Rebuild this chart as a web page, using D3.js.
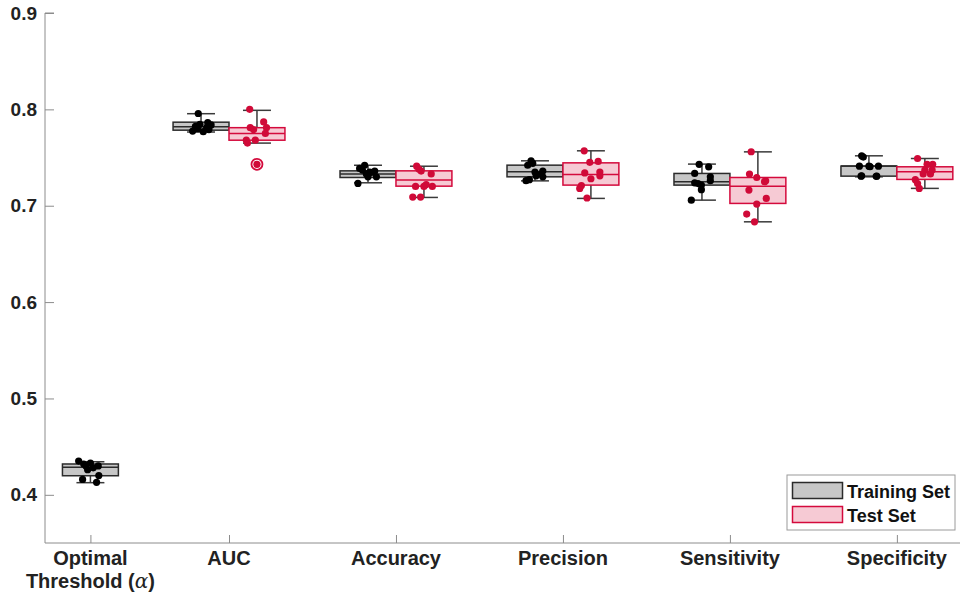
<!DOCTYPE html>
<html>
<head>
<meta charset="utf-8">
<script src="https://cdn.jsdelivr.net/npm/d3@7"></script>
<style>
  body { margin: 0; background: #fff; }
  svg { display: block; font-family: "Liberation Sans", Arial, sans-serif; }
</style>
</head>
<body>
<svg id="chart" width="960" height="599"></svg>
<script>
//categories and where they sit on the x axis
const categories = ["Optimal", "AUC", "Accuracy", "Precision", "Sensitivity", "Specificity"]
const catPos = [1.17, 2, 3, 4, 5, 6]

//box stats: [lower whisker, q1, median, q3, upper whisker]
const trainStats = [
  [0.4126, 0.4198, 0.4285, 0.4320, 0.4343],
  [0.7765, 0.7784, 0.7820, 0.7867, 0.7955],
  [0.7238, 0.7293, 0.7328, 0.7362, 0.7420],
  [0.7258, 0.7300, 0.7352, 0.7421, 0.7466],
  [0.7058, 0.7214, 0.7248, 0.7335, 0.7432],
  [0.7300, 0.7307, 0.7411, 0.7411, 0.7518]
]
const testStats = [
  null,
  [0.7650, 0.7680, 0.7750, 0.7810, 0.7990],
  [0.7086, 0.7203, 0.7266, 0.7362, 0.7410],
  [0.7076, 0.7214, 0.7325, 0.7445, 0.7570],
  [0.6833, 0.7024, 0.7203, 0.7293, 0.7559],
  [0.7180, 0.7273, 0.7352, 0.7404, 0.7490]
]

//fold scores: [value, jitter as share of box width]
const trainPoints = [
  [[0.435,-0.21],[0.430,-0.08],[0.426,-0.05],[0.430,0.14],[0.420,0.15],[0.416,-0.14],[0.413,0.11],[0.433,0.0],[0.428,0.05],[0.432,-0.12]],
  [[0.7957,-0.05],[0.7862,0.12],[0.7845,-0.02],[0.7838,0.18],[0.7825,-0.10],[0.7810,0.10],[0.7800,-0.06],[0.7790,0.14],[0.7775,-0.15],[0.7768,0.04]],
  [[0.742,-0.06],[0.7387,-0.15],[0.737,-0.10],[0.735,0.03],[0.736,0.12],[0.730,0.0],[0.730,0.15],[0.7231,-0.18],[0.733,-0.03],[0.7345,0.06]],
  [[0.7466,-0.07],[0.742,-0.13],[0.735,0.0],[0.733,0.11],[0.730,0.14],[0.726,-0.16],[0.727,-0.10],[0.736,0.14],[0.744,-0.04],[0.731,0.02]],
  [[0.743,-0.05],[0.7404,0.12],[0.7335,-0.13],[0.730,0.15],[0.726,0.15],[0.7238,-0.13],[0.7214,-0.01],[0.7167,-0.01],[0.7058,-0.19],[0.723,-0.07]],
  [[0.7518,-0.13],[0.741,-0.17],[0.741,0.0],[0.741,0.17],[0.7307,-0.14],[0.7307,0.14],[0.7505,-0.10],[0.7405,0.02],[0.731,-0.13],[0.7305,0.13]]
]
const testPoints = [
  [],
  [[0.800,-0.13],[0.787,0.12],[0.781,-0.12],[0.779,-0.06],[0.781,0.17],[0.775,0.15],[0.768,-0.03],[0.768,-0.19],[0.765,-0.17],[0.743,0.0]],
  [[0.741,-0.13],[0.736,-0.05],[0.733,0.13],[0.720,-0.15],[0.720,0.0],[0.720,0.15],[0.709,-0.20],[0.709,-0.06],[0.738,-0.09],[0.722,0.04]],
  [[0.757,-0.12],[0.745,-0.02],[0.746,0.13],[0.734,-0.11],[0.735,0.16],[0.731,0.16],[0.728,0.0],[0.721,-0.17],[0.718,-0.20],[0.708,-0.07]],
  [[0.756,-0.12],[0.7328,-0.15],[0.7293,-0.02],[0.7258,0.14],[0.7162,-0.16],[0.7076,0.15],[0.7017,-0.02],[0.6913,-0.20],[0.6833,-0.06],[0.725,0.12]],
  [[0.749,-0.13],[0.743,0.04],[0.743,0.14],[0.737,0.0],[0.737,0.13],[0.733,-0.03],[0.733,0.10],[0.727,-0.17],[0.723,-0.13],[0.718,-0.10]]
]
//outliers of the test set: [category index, value]
const testOutliers = [[1, 0.743]]

const yTicks = [0.4, 0.5, 0.6, 0.7, 0.8, 0.9]

//look
const trainFill = "#c7c7c7", trainEdge = "#2b2b2b", trainDot = "#000000"
const testFill = "#f6cad4", testEdge = "#d40a3c", testDot = "#d00a38"
const whiskerColor = "#3a3a3a"
const axisColor = "#8c8c8c"
const textColor = "#222222"

const svg = d3.select("#chart")

//scales
const x = d3.scaleLinear().domain([0.898, 6.378]).range([45, 960])
const y = d3.scaleLinear().domain([0.35, 0.9]).range([543, 13])
const boxW = 0.335 //box width in x units
const boxPx = x(boxW) - x(0)

//y axis, ticks pointing inward
const yAxis = svg.append("g").attr("transform", "translate(45,0)")
  .call(d3.axisRight(y).tickValues(yTicks).tickSize(9).tickFormat(d3.format(".1f")))
yAxis.select(".domain").attr("stroke", axisColor).attr("d", `M0,${y(0.9)}H9M0,${y(0.9)}V${y(0.35)}`)
yAxis.selectAll(".tick line").attr("stroke", axisColor)
yAxis.selectAll(".tick text")
  .attr("x", -8).attr("text-anchor", "end")
  .attr("fill", textColor).style("font-size", "19px").style("font-weight", "bold")
  .style("font-family", "'Liberation Sans', Arial, sans-serif")

//x axis, ticks pointing up
const xAxis = svg.append("g").attr("transform", `translate(0,${y(0.35)})`)
  .call(d3.axisTop(x).tickValues(catPos).tickSize(8).tickFormat(""))
xAxis.select(".domain").attr("stroke", axisColor).attr("d", `M45,0H960`)
xAxis.selectAll(".tick line").attr("stroke", axisColor)

//category labels
categories.forEach(function(c, i){
  const t = svg.append("text")
    .attr("x", x(catPos[i])).attr("y", 565)
    .attr("text-anchor", "middle")
    .attr("fill", textColor)
    .style("font-size", "20px").style("font-weight", "bold")
  if (i == 0) {
    t.text("Optimal")
    const t2 = svg.append("text")
      .attr("x", x(catPos[i])).attr("y", 588)
      .attr("text-anchor", "middle")
      .attr("fill", textColor)
      .style("font-size", "20px").style("font-weight", "bold")
    t2.append("tspan").text("Threshold (")
    t2.append("tspan").text("α").style("font-style", "italic").style("font-weight", "normal")
      .style("font-family", "'DejaVu Serif', serif")
    t2.append("tspan").text(")")
  } else {
    t.text(c)
  }
})

//one box per set
function drawBox(stats, cx, fill, edge){
  const g = svg.append("g")
  const [lo, q1, med, q3, hi] = stats
  const left = x(cx - boxW / 2), w = boxPx
  //whiskers
  g.append("line").attr("x1", x(cx)).attr("x2", x(cx)).attr("y1", y(q3)).attr("y2", y(hi))
    .attr("stroke", whiskerColor).attr("stroke-width", 1.5)
  g.append("line").attr("x1", x(cx)).attr("x2", x(cx)).attr("y1", y(q1)).attr("y2", y(lo))
    .attr("stroke", whiskerColor).attr("stroke-width", 1.5)
  g.selectAll(".cap").data([lo, hi]).join("line")
    .attr("x1", x(cx - boxW / 4)).attr("x2", x(cx + boxW / 4))
    .attr("y1", d => y(d)).attr("y2", d => y(d))
    .attr("stroke", whiskerColor).attr("stroke-width", 1.5)
  //box
  g.append("rect").attr("x", left).attr("y", y(q3))
    .attr("width", w).attr("height", y(q1) - y(q3))
    .attr("fill", fill).attr("stroke", edge).attr("stroke-width", 1.5)
  g.append("line").attr("x1", left).attr("x2", left + w).attr("y1", y(med)).attr("y2", y(med))
    .attr("stroke", edge).attr("stroke-width", 1.5)
}

function drawPoints(pts, cx, color){
  svg.append("g").selectAll("circle").data(pts).join("circle")
    .attr("cx", d => x(cx + d[1] * boxW))
    .attr("cy", d => y(d[0]))
    .attr("r", 3.6)
    .attr("fill", color)
}

categories.forEach(function(c, i){
  const hasTest = testStats[i] != null
  const trainX = hasTest ? catPos[i] - boxW / 2 : catPos[i]
  const testX = catPos[i] + boxW / 2
  drawBox(trainStats[i], trainX, trainFill, trainEdge)
  if (hasTest) drawBox(testStats[i], testX, testFill, testEdge)
  drawPoints(trainPoints[i], trainX, trainDot)
  if (hasTest) drawPoints(testPoints[i], testX, testDot)
})

//outlier rings
svg.append("g").selectAll("circle").data(testOutliers).join("circle")
  .attr("cx", d => x(catPos[d[0]] + boxW / 2))
  .attr("cy", d => y(d[1]))
  .attr("r", 5.5)
  .attr("fill", "none")
  .attr("stroke", testEdge)
  .attr("stroke-width", 1.8)

//legend
const legend = svg.append("g").attr("transform", "translate(787,475)")
legend.append("rect").attr("width", 168).attr("height", 55)
  .attr("fill", "#fff").attr("stroke", "#9a9a9a").attr("stroke-width", 1)
const legendItems = [["Training Set", trainFill, trainEdge], ["Test Set", testFill, testEdge]]
legendItems.forEach(function(d, i){
  legend.append("rect").attr("x", 5.5).attr("y", 7.5 + i * 24)
    .attr("width", 50).attr("height", 16)
    .attr("fill", d[1]).attr("stroke", d[2]).attr("stroke-width", 1.5)
  legend.append("text").attr("x", 60).attr("y", 22.5 + i * 24)
    .text(d[0])
    .attr("fill", "#111")
    .style("font-size", "18px").style("font-weight", "bold")
})
</script>
</body>
</html>
